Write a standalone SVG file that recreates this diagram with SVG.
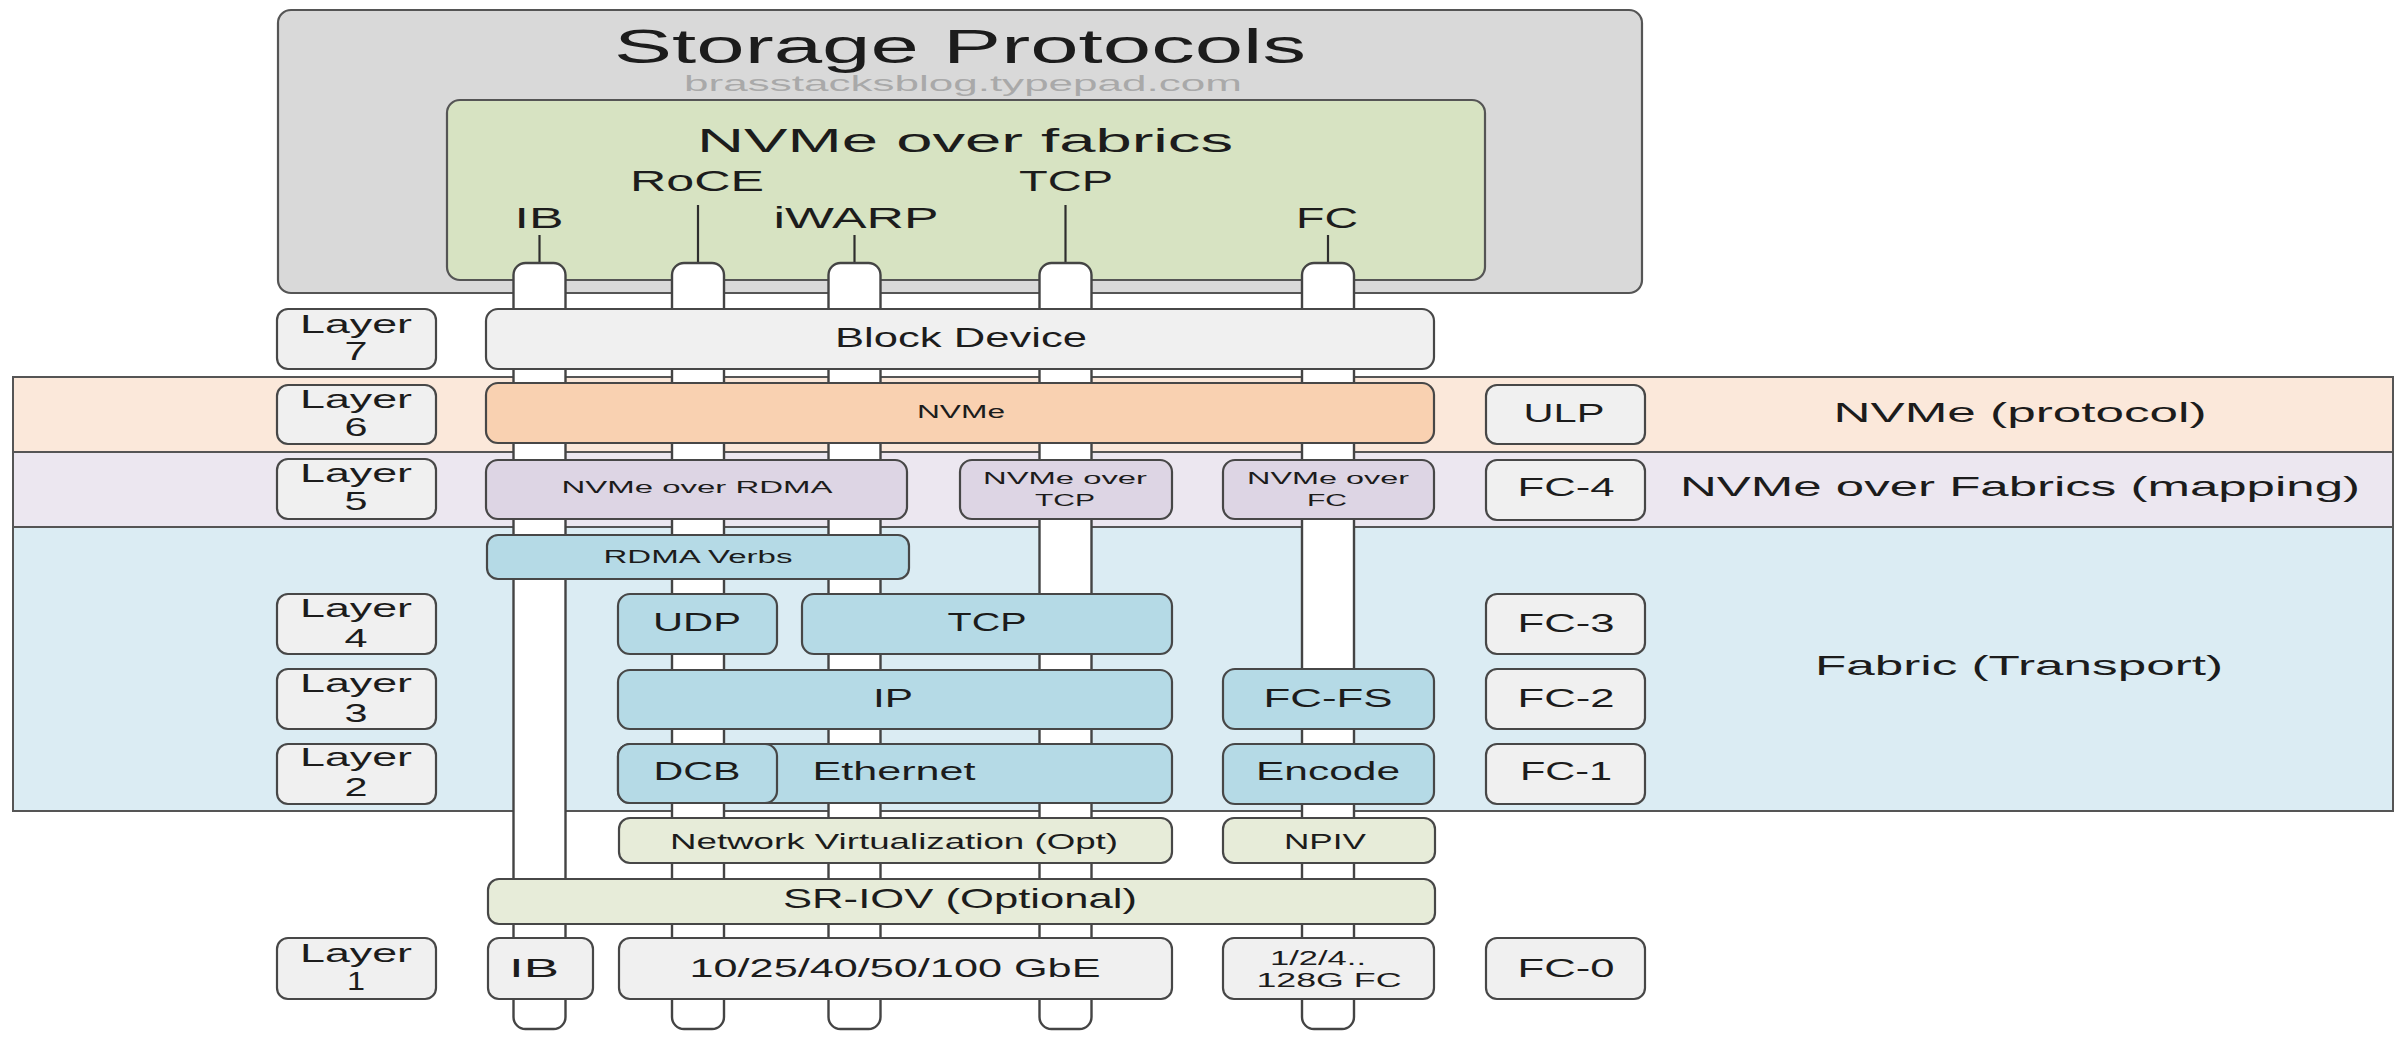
<svg xmlns="http://www.w3.org/2000/svg" width="2407" height="1038" viewBox="0 0 2407 1038">
  <style>
    text { font-family: "Liberation Sans", Arial, sans-serif; fill: #1c1c1c; text-anchor: middle; }
    .band { stroke: #555; stroke-width: 2; }
    .box { stroke: #474747; stroke-width: 2.2; }
    .gray { fill: #f0f0f0; }
    .peachB { fill: #fbe8da; }
    .peach { fill: #f9d1b1; }
    .lilacB { fill: #ece7f0; }
    .lilac { fill: #ddd5e4; }
    .blueB { fill: #dbecf3; }
    .blue { fill: #b5dae6; }
    .sage { fill: #e7ecd9; }
    .pillar { fill: #ffffff; stroke: #444; stroke-width: 2.4; }
    .lead { stroke: #2e2e2e; stroke-width: 2.2; }
    .l25 { font-size: 25px; }
    .l28 { font-size: 28px; }
    .s17 { font-size: 17px; }
  </style>

  <rect width="2407" height="1038" fill="#ffffff"/>

  <!-- horizontal layer bands -->
  <g id="band-ulp">
    <rect class="band peachB" x="13" y="377" width="2380" height="75"/>
    <text class="l28" x="2020" y="422" textLength="373" lengthAdjust="spacingAndGlyphs">NVMe (protocol)</text>
  </g>
  <g id="band-mapping">
    <rect class="band lilacB" x="13" y="452" width="2380" height="75"/>
    <text class="l28" x="2020" y="496" textLength="680" lengthAdjust="spacingAndGlyphs">NVMe over Fabrics (mapping)</text>
  </g>
  <g id="band-transport">
    <rect class="band blueB" x="13" y="527" width="2380" height="284"/>
    <text class="l28" x="2019" y="675" textLength="408" lengthAdjust="spacingAndGlyphs">Fabric (Transport)</text>
  </g>

  <!-- top container -->
  <g id="storage-protocols">
    <rect x="278" y="10" width="1364" height="283" rx="13" fill="#d9d9d9" stroke="#555" stroke-width="2.2"/>
    <text x="960" y="63" font-size="49" textLength="692" lengthAdjust="spacingAndGlyphs">Storage Protocols</text>
    <text x="963" y="91" font-size="22" style="fill:#a9a9a9" textLength="558" lengthAdjust="spacingAndGlyphs">brasstacksblog.typepad.com</text>
  </g>
  <g id="nvme-over-fabrics">
    <rect x="447" y="100" width="1038" height="180" rx="13" fill="#d7e3c2" stroke="#555" stroke-width="2.2"/>
    <text x="965" y="152" font-size="33" textLength="536" lengthAdjust="spacingAndGlyphs">NVMe over fabrics</text>
    <text x="697" y="191" font-size="29" textLength="134" lengthAdjust="spacingAndGlyphs">RoCE</text>
    <text x="1066" y="191" font-size="29" textLength="94" lengthAdjust="spacingAndGlyphs">TCP</text>
    <text x="539" y="228" font-size="29" textLength="49" lengthAdjust="spacingAndGlyphs">IB</text>
    <text x="856" y="228" font-size="29" textLength="165" lengthAdjust="spacingAndGlyphs">iWARP</text>
    <text x="1327" y="228" font-size="29" textLength="62" lengthAdjust="spacingAndGlyphs">FC</text>
  </g>

  <!-- transport columns running through the stack -->
  <g id="connectors">
    <line class="lead" x1="539.5" y1="235" x2="539.5" y2="264"/>
    <line class="lead" x1="698" y1="205" x2="698" y2="264"/>
    <line class="lead" x1="854.5" y1="235" x2="854.5" y2="264"/>
    <line class="lead" x1="1065.5" y1="205" x2="1065.5" y2="264"/>
    <line class="lead" x1="1328" y1="235" x2="1328" y2="264"/>
    <rect class="pillar" x="513.5" y="263" width="52" height="766" rx="12"/>
    <rect class="pillar" x="672" y="263" width="52" height="766" rx="12"/>
    <rect class="pillar" x="828.5" y="263" width="52" height="766" rx="12"/>
    <rect class="pillar" x="1039.5" y="263" width="52" height="766" rx="12"/>
    <rect class="pillar" x="1302" y="263" width="52" height="766" rx="12"/>
  </g>

  <!-- layer numbers -->
  <g id="layer7">
    <rect class="box gray" x="277" y="309" width="159" height="60" rx="11"/>
    <text class="l25" x="356" y="333" textLength="112" lengthAdjust="spacingAndGlyphs">Layer</text>
    <text class="l25" x="356" y="360" textLength="23" lengthAdjust="spacingAndGlyphs">7</text>
  </g>
  <g id="layer6">
    <rect class="box gray" x="277" y="385" width="159" height="59" rx="11"/>
    <text class="l25" x="356" y="408" textLength="112" lengthAdjust="spacingAndGlyphs">Layer</text>
    <text class="l25" x="356" y="436" textLength="23" lengthAdjust="spacingAndGlyphs">6</text>
  </g>
  <g id="layer5">
    <rect class="box gray" x="277" y="459" width="159" height="60" rx="11"/>
    <text class="l25" x="356" y="482" textLength="112" lengthAdjust="spacingAndGlyphs">Layer</text>
    <text class="l25" x="356" y="510" textLength="23" lengthAdjust="spacingAndGlyphs">5</text>
  </g>
  <g id="layer4">
    <rect class="box gray" x="277" y="594" width="159" height="60" rx="11"/>
    <text class="l25" x="356" y="617" textLength="112" lengthAdjust="spacingAndGlyphs">Layer</text>
    <text class="l25" x="356" y="647" textLength="23" lengthAdjust="spacingAndGlyphs">4</text>
  </g>
  <g id="layer3">
    <rect class="box gray" x="277" y="669" width="159" height="60" rx="11"/>
    <text class="l25" x="356" y="692" textLength="112" lengthAdjust="spacingAndGlyphs">Layer</text>
    <text class="l25" x="356" y="722" textLength="23" lengthAdjust="spacingAndGlyphs">3</text>
  </g>
  <g id="layer2">
    <rect class="box gray" x="277" y="744" width="159" height="60" rx="11"/>
    <text class="l25" x="356" y="766" textLength="112" lengthAdjust="spacingAndGlyphs">Layer</text>
    <text class="l25" x="356" y="796" textLength="23" lengthAdjust="spacingAndGlyphs">2</text>
  </g>
  <g id="layer1">
    <rect class="box gray" x="277" y="938" width="159" height="61" rx="11"/>
    <text class="l25" x="356" y="962" textLength="112" lengthAdjust="spacingAndGlyphs">Layer</text>
    <text class="l25" x="356" y="990" textLength="18" lengthAdjust="spacingAndGlyphs">1</text>
  </g>

  <!-- protocol stack -->
  <g id="block-device">
    <rect class="box gray" x="486" y="309" width="948" height="60" rx="12"/>
    <text class="l28" x="961" y="347" textLength="252" lengthAdjust="spacingAndGlyphs">Block Device</text>
  </g>
  <g id="nvme">
    <rect class="box peach" x="486" y="383" width="948" height="60" rx="12"/>
    <text x="961" y="418" font-size="18" textLength="88" lengthAdjust="spacingAndGlyphs">NVMe</text>
  </g>
  <g id="nvme-rdma">
    <rect class="box lilac" x="486" y="460" width="421" height="59" rx="12"/>
    <text class="s17" x="697" y="493" textLength="271" lengthAdjust="spacingAndGlyphs">NVMe over RDMA</text>
  </g>
  <g id="nvme-tcp">
    <rect class="box lilac" x="960" y="460" width="212" height="59" rx="12"/>
    <text class="s17" x="1065" y="484" textLength="164" lengthAdjust="spacingAndGlyphs">NVMe over</text>
    <text class="s17" x="1065" y="506" textLength="60" lengthAdjust="spacingAndGlyphs">TCP</text>
  </g>
  <g id="nvme-fc">
    <rect class="box lilac" x="1223" y="460" width="211" height="59" rx="12"/>
    <text class="s17" x="1328" y="484" textLength="162" lengthAdjust="spacingAndGlyphs">NVMe over</text>
    <text class="s17" x="1327" y="506" textLength="40" lengthAdjust="spacingAndGlyphs">FC</text>
  </g>
  <g id="rdma-verbs">
    <rect class="box blue" x="487" y="535" width="422" height="44" rx="11"/>
    <text x="698" y="563" font-size="18" textLength="189" lengthAdjust="spacingAndGlyphs">RDMA Verbs</text>
  </g>
  <g id="udp">
    <rect class="box blue" x="618" y="594" width="159" height="60" rx="12"/>
    <text class="l25" x="697" y="631" textLength="88" lengthAdjust="spacingAndGlyphs">UDP</text>
  </g>
  <g id="tcp">
    <rect class="box blue" x="802" y="594" width="370" height="60" rx="12"/>
    <text class="l25" x="987" y="631" textLength="79" lengthAdjust="spacingAndGlyphs">TCP</text>
  </g>
  <g id="ip">
    <rect class="box blue" x="618" y="670" width="554" height="59" rx="12"/>
    <text class="l25" x="893" y="707" textLength="40" lengthAdjust="spacingAndGlyphs">IP</text>
  </g>
  <g id="ethernet">
    <rect class="box blue" x="618" y="744" width="554" height="59" rx="12"/>
    <text class="l25" x="894" y="780" textLength="163" lengthAdjust="spacingAndGlyphs">Ethernet</text>
  </g>
  <g id="dcb">
    <rect class="box blue" x="618" y="744" width="159" height="59" rx="12"/>
    <text class="l25" x="697" y="780" textLength="87" lengthAdjust="spacingAndGlyphs">DCB</text>
  </g>
  <g id="fc-fs">
    <rect class="box blue" x="1223" y="669" width="211" height="60" rx="12"/>
    <text class="l25" x="1328" y="707" textLength="129" lengthAdjust="spacingAndGlyphs">FC-FS</text>
  </g>
  <g id="encode">
    <rect class="box blue" x="1223" y="744" width="211" height="60" rx="12"/>
    <text class="l25" x="1328" y="780" textLength="144" lengthAdjust="spacingAndGlyphs">Encode</text>
  </g>
  <g id="net-virt">
    <rect class="box sage" x="619" y="818" width="553" height="45" rx="11"/>
    <text x="894" y="849" font-size="22" textLength="448" lengthAdjust="spacingAndGlyphs">Network Virtualization (Opt)</text>
  </g>
  <g id="npiv">
    <rect class="box sage" x="1223" y="818" width="212" height="45" rx="11"/>
    <text x="1325" y="849" font-size="22" textLength="82" lengthAdjust="spacingAndGlyphs">NPIV</text>
  </g>
  <g id="sr-iov">
    <rect class="box sage" x="488" y="879" width="947" height="45" rx="11"/>
    <text class="l28" x="960" y="908" textLength="354" lengthAdjust="spacingAndGlyphs">SR-IOV (Optional)</text>
  </g>
  <g id="phy-ib">
    <rect class="box gray" x="488" y="938" width="105" height="61" rx="11"/>
    <text class="l25" x="534" y="977" textLength="50" lengthAdjust="spacingAndGlyphs">IB</text>
  </g>
  <g id="phy-ethernet">
    <rect class="box gray" x="619" y="938" width="553" height="61" rx="11"/>
    <text class="l25" x="895" y="977" textLength="411" lengthAdjust="spacingAndGlyphs">10/25/40/50/100 GbE</text>
  </g>
  <g id="phy-fc">
    <rect class="box gray" x="1223" y="938" width="211" height="61" rx="11"/>
    <text x="1318" y="965" font-size="20" textLength="96" lengthAdjust="spacingAndGlyphs">1/2/4..</text>
    <text x="1329" y="987" font-size="20" textLength="145" lengthAdjust="spacingAndGlyphs">128G FC</text>
  </g>

  <!-- Fibre Channel levels -->
  <g id="ulp">
    <rect class="box gray" x="1486" y="385" width="159" height="59" rx="11"/>
    <text class="l25" x="1564" y="422" textLength="81" lengthAdjust="spacingAndGlyphs">ULP</text>
  </g>
  <g id="fc4">
    <rect class="box gray" x="1486" y="460" width="159" height="60" rx="11"/>
    <text class="l25" x="1566" y="496" textLength="97" lengthAdjust="spacingAndGlyphs">FC-4</text>
  </g>
  <g id="fc3">
    <rect class="box gray" x="1486" y="594" width="159" height="60" rx="11"/>
    <text class="l25" x="1566" y="632" textLength="97" lengthAdjust="spacingAndGlyphs">FC-3</text>
  </g>
  <g id="fc2">
    <rect class="box gray" x="1486" y="669" width="159" height="60" rx="11"/>
    <text class="l25" x="1566" y="707" textLength="97" lengthAdjust="spacingAndGlyphs">FC-2</text>
  </g>
  <g id="fc1">
    <rect class="box gray" x="1486" y="744" width="159" height="60" rx="11"/>
    <text class="l25" x="1566" y="780" textLength="92" lengthAdjust="spacingAndGlyphs">FC-1</text>
  </g>
  <g id="fc0">
    <rect class="box gray" x="1486" y="938" width="159" height="61" rx="11"/>
    <text class="l25" x="1566" y="977" textLength="97" lengthAdjust="spacingAndGlyphs">FC-0</text>
  </g>
</svg>
